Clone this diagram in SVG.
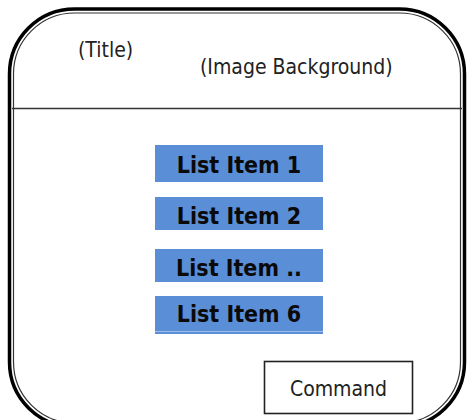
<svg xmlns="http://www.w3.org/2000/svg" width="472" height="420" viewBox="0 0 472 420">
<style>
.lbl{font-family:"DejaVu Sans Condensed","DejaVu Sans","Liberation Sans",sans-serif;font-stretch:condensed;font-size:21px;fill:#222}
.item rect{fill:#5A8ED7}
.item text{font-family:"DejaVu Sans Condensed","DejaVu Sans","Liberation Sans",sans-serif;font-stretch:condensed;font-weight:bold;font-size:23px;fill:#0a0a0a;text-anchor:middle}
</style>
<rect width="472" height="420" fill="#fff"/>
<g id="frame">
<rect x="9.5" y="9" width="455" height="418" rx="65" ry="65" fill="none" stroke="#000" stroke-width="3.5"/>
<rect x="13.5" y="13" width="447" height="410" rx="61" ry="61" fill="none" stroke="#333" stroke-width="1.2"/>
<line x1="12" y1="108.5" x2="462" y2="108.5" stroke="#333" stroke-width="1.5"/>
</g>
<g id="title"><text class="lbl" x="78" y="57">(Title)</text></g>
<g id="background"><text class="lbl" x="200" y="74">(Image Background)</text></g>
<g id="item1" class="item"><rect x="155" y="145" width="168" height="37"/><text x="239" y="173">List Item 1</text></g>
<g id="item2" class="item"><rect x="155" y="197" width="168" height="33"/><text x="239" y="224">List Item 2</text></g>
<g id="item3" class="item"><rect x="155" y="249" width="168" height="33"/><text x="239" y="276">List Item ..</text></g>
<g id="item6" class="item"><rect x="155" y="296" width="168" height="38"/><line x1="155" y1="331.5" x2="323" y2="331.5" stroke="#9dbde8" stroke-width="1"/><text x="239" y="322">List Item 6</text></g>
<g id="command">
<rect x="264.5" y="361.5" width="148" height="52" fill="#fff" stroke="#222" stroke-width="1.6"/>
<text class="lbl" x="338.5" y="396" text-anchor="middle">Command</text>
</g>
<g id="connectors"/>
</svg>
